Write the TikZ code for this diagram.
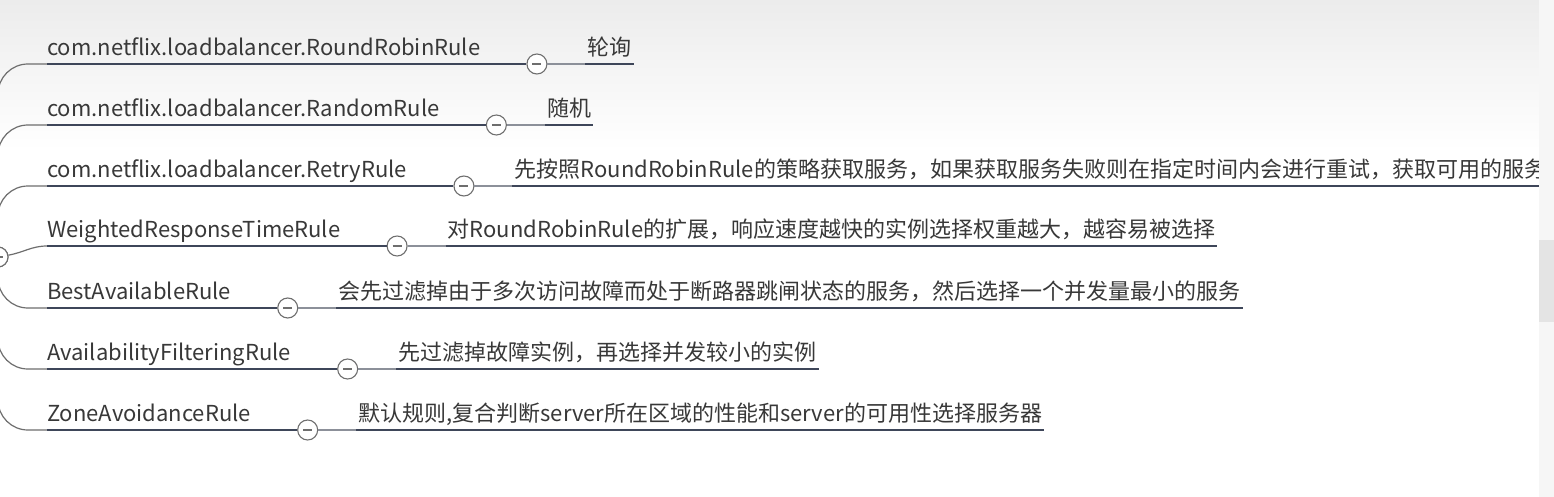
\documentclass[tikz,border=0pt]{standalone}
\usepackage{fontspec}
\setmainfont{Noto Sans CJK SC}
\usepackage{tikz}
\usetikzlibrary{positioning}

\definecolor{textgray}{HTML}{383838}
\definecolor{linedark}{HTML}{3E4659}
\definecolor{linelight}{HTML}{8C9099}
\definecolor{foldgray}{HTML}{6E6E6E}

\begin{document}
\begin{tikzpicture}[x=1pt, y=-1pt,
    every node/.style={font=\fontsize{22pt}{26pt}\selectfont, text=textgray},
    topic/.style={anchor=south west, inner xsep=0pt, inner ysep=3pt, text depth=5pt},
    desc/.style={inner xsep=2pt, inner ysep=3pt, text depth=5pt},
    fold/.style={circle, draw=foldgray, fill=white, line width=1.1pt, minimum size=20pt, inner sep=0pt,
        path picture={\draw[foldgray, line width=1.3pt] ([xshift=5.5pt]path picture bounding box.west) -- ([xshift=-5.5pt]path picture bounding box.east);}},
    branch/.style={draw=foldgray, line width=1.2pt, rounded corners=30pt},
    underline/.style={draw=linedark, line width=1.5pt},
    link/.style={draw=linelight, line width=1.3pt}]
    % background and page frame
    \useasboundingbox (0,0) rectangle (1554,497);
    \fill[white] (0,0) rectangle (1554,497);
    \shade[top color=gray!15, bottom color=white] (0,0) rectangle (1554,150);

    % root
    \node[fold] (root) at (-2,257) {};

    % topics
    \node[topic] (t1) at (47,64) {com.netflix.loadbalancer.RoundRobinRule};
    \node[topic] (t2) at (47,125) {com.netflix.loadbalancer.RandomRule};
    \node[topic] (t3) at (47,186) {com.netflix.loadbalancer.RetryRule};
    \node[topic] (t4) at (47,246) {WeightedResponseTimeRule};
    \node[topic] (t5) at (47,308) {BestAvailableRule};
    \node[topic] (t6) at (47,369) {AvailabilityFilteringRule};
    \node[topic] (t7) at (47,430) {ZoneAvoidanceRule};

    % fold buttons
    \node[fold, right=46pt of t1.south east] (f1) {};
    \node[fold, right=46pt of t2.south east] (f2) {};
    \node[fold, right=46pt of t3.south east] (f3) {};
    \node[fold, right=46pt of t4.south east] (f4) {};
    \node[fold, right=46pt of t5.south east] (f5) {};
    \node[fold, right=46pt of t6.south east] (f6) {};
    \node[fold, right=46pt of t7.south east] (f7) {};

    % descriptions
    \node[desc, above right=0pt and 38pt of f1.east] (d1) {轮询};
    \node[desc, above right=0pt and 38pt of f2.east] (d2) {随机};
    \node[desc, above right=0pt and 38pt of f3.east] (d3) {先按照RoundRobinRule的策略获取服务，如果获取服务失败则在指定时间内会进行重试，获取可用的服务};
    \node[desc, above right=0pt and 38pt of f4.east] (d4) {对RoundRobinRule的扩展，响应速度越快的实例选择权重越大，越容易被选择};
    \node[desc, above right=0pt and 38pt of f5.east] (d5) {会先过滤掉由于多次访问故障而处于断路器跳闸状态的服务，然后选择一个并发量最小的服务};
    \node[desc, above right=0pt and 38pt of f6.east] (d6) {先过滤掉故障实例，再选择并发较小的实例};
    \node[desc, above right=0pt and 38pt of f7.east] (d7) {默认规则,复合判断server所在区域的性能和server的可用性选择服务器};

    % branches from the root
    \draw[branch] (root) |- (t1.south west);
    \draw[branch] (root) |- (t2.south west);
    \draw[branch] (root) |- (t3.south west);
    \draw[branch] (root) to[out=10, in=180] (t4.south west);
    \draw[branch] (root) |- (t5.south west);
    \draw[branch] (root) |- (t6.south west);
    \draw[branch] (root) |- (t7.south west);

    % underlines and links
    \foreach \i in {1,...,7} {
        \draw[underline] (t\i.south west) -- (f\i);
        \draw[link] (f\i) -- (d\i.south west);
        \draw[underline] (d\i.south west) -- (d\i.south east);
    }
    \node[fold] at (root) {};

    % scroll bar
    \fill[gray!7] (1539,0) rectangle (1554,497);
    \fill[gray!21] (1539,240) rectangle (1554,322);
\end{tikzpicture}
\end{document}
